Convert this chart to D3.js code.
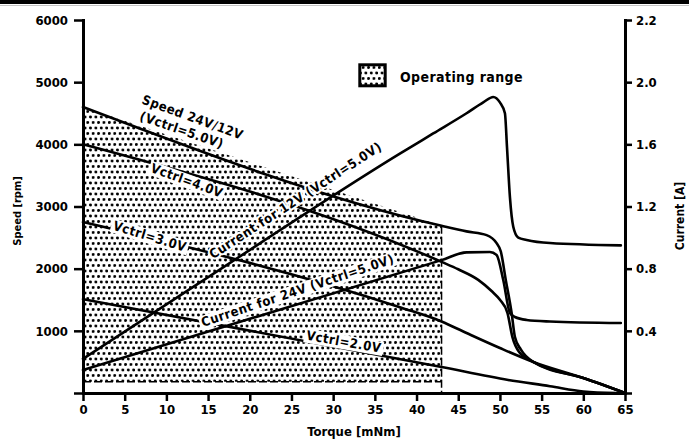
<!DOCTYPE html>
<html><head><meta charset="utf-8">
<script src="https://cdn.jsdelivr.net/npm/d3@7"></script>
<style>
html,body{margin:0;padding:0;background:#fff;}
svg{display:block;}
text{font-family:"DejaVu Sans Condensed","DejaVu Sans",sans-serif;fill:#000;}
</style></head><body>
<svg id="chart" width="689" height="439"></svg>
<script>
// ---------- data ----------
const torqueTicks = [0,5,10,15,20,25,30,35,40,45,50,55,60,65];
const speedTicks = [0,1000,2000,3000,4000,5000,6000];
const currentTicks = [0,0.4,0.8,1.2,1.6,2.0,2.4];
const currentTickLabels = ["","0.4","0.8","1.2","1.6","2.0","2.2"];

// speed curves [torque mNm, speed rpm]
const speed5V = [[0,4600],[43,2690],[46,2600],[48.4,2540],[49.6,2410],[50.1,2280],[50.7,1820],[51.4,1290],[51.8,900],[52.5,700],[54,500],[60,240],[65,0]];
const speed4V = [[0,4000],[43,2110],[45,1990],[47.4,1820],[49,1640],[50,1500],[50.9,1290],[51.5,900],[52.3,660],[54,500],[60,240],[65,0]];
const speed3V = [[0,2750],[38,1380],[43,1150],[46,965],[50,724],[54,500],[60,240],[65,0]];
const speed2V = [[0,1510],[43,418],[51,210],[56,110],[60,25],[64,0]];
// current curves [torque mNm, current A]
const current12V = [[0,0.22],[14,0.71],[38,1.54],[42,1.67],[46,1.80],[48,1.87],[49.2,1.905],[50,1.87],[50.6,1.80],[50.85,1.58],[51.2,1.26],[51.6,1.07],[52.2,1.00],[53.2,0.985],[56,0.965],[64.5,0.95]];
const current24V = [[0,0.148],[43,0.855],[46,0.905],[48.8,0.907],[49.6,0.888],[50.4,0.727],[51.2,0.515],[51.8,0.489],[53.2,0.47],[56,0.46],[64.5,0.45]];

// operating range
const opTorqueMax = 43;
const opSpeedMin = 180;

// curve labels: [text, torque, value, axis, angle, background ("box" | "halo" | "none")]
const labels = [
  ["Speed 24V/12V", 6.96, 4660, "speed", 20, "none"],
  ["(Vctrl=5.0V)", 6.7, 4390, "speed", 19, "none"],
  ["Vctrl=4.0V", 8.0, 3560, "speed", 20, "box"],
  ["Vctrl=3.0V", 3.5, 2630, "speed", 17, "box"],
  ["Current for 12V (Vctrl=5.0V)", 15.6, 0.86, "current", -33, "halo"],
  ["Current for 24V (Vctrl=5.0V)", 14.4, 0.425, "current", -18.5, "box"],
  ["Vctrl=2.0V", 26.7, 860, "speed", 10, "box"]
];

// ---------- chart ----------
const W = 689, H = 439;
const m = {left:83, right:625, top:20, bottom:393};
const svg = d3.select("#chart");
const x = d3.scaleLinear().domain([0,65]).range([m.left,m.right]);
const yS = d3.scaleLinear().domain([0,6000]).range([m.bottom,m.top]);
const yC = d3.scaleLinear().domain([0,2.4]).range([m.bottom,m.top]);

svg.append("rect").attr("x",0).attr("y",0).attr("width",W).attr("height",4).attr("fill","#000");
svg.append("line").attr("x1",0).attr("x2",W).attr("y1",5.5).attr("y2",5.5).attr("stroke","#c4c4c4").attr("stroke-width",1);

const defs = svg.append("defs");
const pat = defs.append("pattern").attr("id","dots").attr("patternUnits","userSpaceOnUse")
  .attr("width",5.4).attr("height",11);
pat.append("rect").attr("width",5.4).attr("height",11).attr("fill","#fff");
pat.append("circle").attr("cx",1.35).attr("cy",1.5).attr("r",1.45).attr("fill","#000");
pat.append("circle").attr("cx",4.05).attr("cy",7).attr("r",1.45).attr("fill","#000");

// operating range area
const topEdge = speed5V.filter(d => d[0] <= opTorqueMax).slice().reverse();
const poly = [[0,opSpeedMin],[opTorqueMax,opSpeedMin]].concat(topEdge);
svg.append("path")
  .attr("d", d3.line().x(d=>x(d[0])).y(d=>yS(d[1]))(poly) + "Z")
  .attr("fill","url(#dots)").attr("stroke","none");
svg.append("line").attr("x1",x(0)).attr("x2",x(opTorqueMax)).attr("y1",yS(opSpeedMin)).attr("y2",yS(opSpeedMin))
  .attr("stroke","#000").attr("stroke-width",1.5).attr("stroke-dasharray","8,3");
svg.append("line").attr("x1",x(opTorqueMax)).attr("x2",x(opTorqueMax)).attr("y1",yS(topEdge[0][1])).attr("y2",yS(0))
  .attr("stroke","#000").attr("stroke-width",1.5).attr("stroke-dasharray","8,3");

// curves
const lineS = d3.line().x(d=>x(d[0])).y(d=>yS(d[1])).curve(d3.curveMonotoneX);
const lineC = d3.line().x(d=>x(d[0])).y(d=>yC(d[1])).curve(d3.curveMonotoneX);
[speed5V, speed4V, speed3V, speed2V].forEach(s => {
  svg.append("path").attr("d", lineS(s)).attr("fill","none").attr("stroke","#000")
    .attr("stroke-width",2.6).attr("stroke-linejoin","round").attr("stroke-linecap","round");
});
[current12V, current24V].forEach(s => {
  svg.append("path").attr("d", lineC(s)).attr("fill","none").attr("stroke","#000")
    .attr("stroke-width",2.6).attr("stroke-linejoin","round").attr("stroke-linecap","round");
});

// curve labels
labels.forEach(l => {
  const px = x(l[1]);
  const py = l[3] === "speed" ? yS(l[2]) : yC(l[2]);
  const g = svg.append("g").attr("transform", `translate(${px},${py}) rotate(${l[4]})`);
  const t = g.append("text").attr("x",0).attr("y",0).attr("font-size","13px").attr("font-weight","bold")
    .attr("letter-spacing","0.5px").text(l[0]);
  if (l[5] === "box") {
    const b = t.node().getBBox();
    g.insert("rect","text").attr("x",b.x-2).attr("y",b.y+1).attr("width",b.width+4).attr("height",b.height-1).attr("fill","#fff");
  } else if (l[5] === "halo") {
    t.attr("stroke","#fff").attr("stroke-width",4).attr("stroke-linejoin","round").attr("paint-order","stroke");
  }
});

// legend
svg.append("rect").attr("x",359.8).attr("y",64.8).attr("width",25.4).attr("height",21)
  .attr("fill","url(#dots)").attr("stroke","#000").attr("stroke-width",3);
svg.append("text").attr("x",400).attr("y",82).attr("font-size","14px").attr("font-weight","bold")
  .attr("letter-spacing","0.4px").text("Operating range");

// axes
function styleAxis(g){
  g.select(".domain").attr("stroke-width",3).attr("stroke-linecap","square");
  g.selectAll(".tick line").attr("stroke-width",2.5);
  g.selectAll(".tick text").attr("font-family",null).attr("font-size","13px").attr("font-weight","bold");
  g.attr("font-family",null).attr("font-size",null);
}
svg.append("g").attr("transform",`translate(${m.left},0)`)
  .call(d3.axisLeft(yS).tickValues(speedTicks).tickSize(9).tickSizeOuter(0).tickPadding(6).tickFormat(d => d===0 ? "" : d))
  .call(styleAxis);
svg.append("g").attr("transform",`translate(${m.right},0)`)
  .call(d3.axisRight(yC).tickValues(currentTicks).tickSize(7).tickSizeOuter(0).tickPadding(4).tickFormat((d,i) => currentTickLabels[i]))
  .call(styleAxis);
svg.append("g").attr("transform",`translate(0,${m.bottom})`)
  .call(d3.axisBottom(x).tickValues(torqueTicks).tickSize(8).tickSizeOuter(0).tickPadding(4))
  .call(styleAxis);

// axis titles
svg.append("text").attr("x",354).attr("y",436).attr("text-anchor","middle").attr("font-size","13px").attr("font-weight","bold").text("Torque [mNm]");
svg.append("text").attr("transform","translate(18,211) rotate(-90)").attr("text-anchor","middle").attr("dominant-baseline","middle").attr("font-size","11px").attr("font-weight","bold").text("Speed [rpm]");
svg.append("text").attr("transform","translate(680,216) rotate(-90)").attr("text-anchor","middle").attr("dominant-baseline","middle").attr("font-size","12px").attr("font-weight","bold").text("Current [A]");
</script>
</body></html>
